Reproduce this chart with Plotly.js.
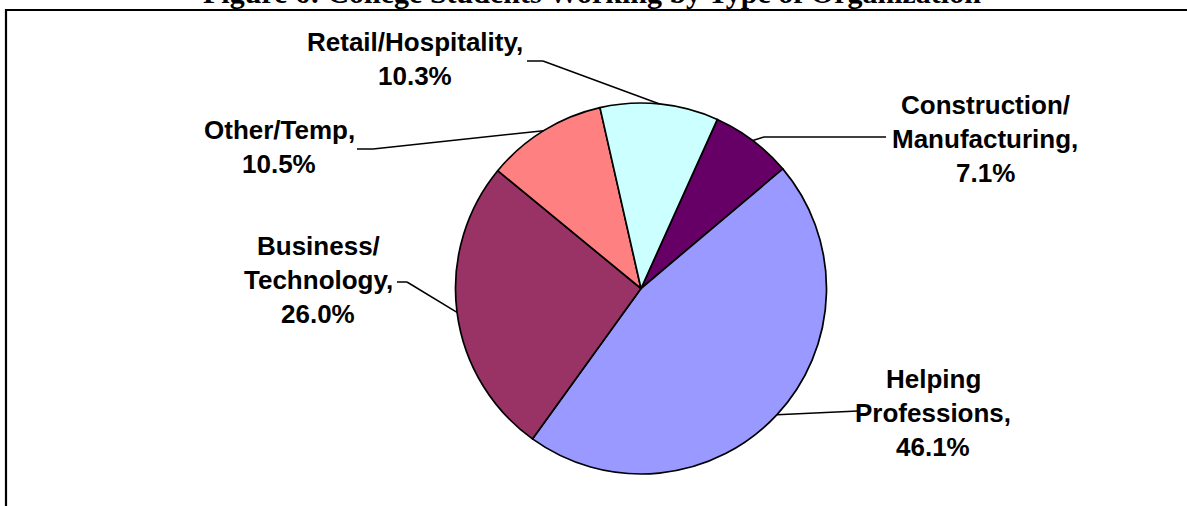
<!DOCTYPE html>
<html><head><meta charset="utf-8">
<script src="https://cdn.plot.ly/plotly-3.0.1.min.js"></script>
<style>html,body{margin:0;padding:0;background:#fff;overflow:hidden;} #chart{width:1187px;height:506px;}</style>
</head><body><div id="chart"></div>
<script>
// ---- data ----
const categories = ["Construction/ Manufacturing", "Helping Professions", "Business/ Technology", "Other/Temp", "Retail/Hospitality"];
const values = [7.1, 46.1, 26.0, 10.5, 10.3];
const labelText = ["Construction/<br>Manufacturing,", "Helping<br>Professions,", "Business/<br>Technology,", "Other/Temp,", "Retail/Hospitality,"];
const colors = ["#660066", "#9999FF", "#993366", "#FF8080", "#CCFFFF"];
const titleText = "Figure 6: College Students Working by Type of Organization";

// ---- layout helpers (pixel positions) ----
const W = 1187, H = 506;
const px = x => x / W, py = y => 1 - y / H;
const cx = 641, cy = 288.5, R = 185.5, rotation = 24.3;
const lineGap = 34, labelFont = 26;
// label centres and leader start/elbow points
const labelPos = [[985, 139], [933, 413], [318, 280], [279, 147], [415, 59]];
const leaderStart = [[886, 137], [858, 411], [397, 282], [357, 149], [527, 61]];
const leaderElbow = [[764, 137], [858, 411], [407, 282], [373, 149], [543, 61]];

const total = values.reduce((a, b) => a + b, 0);
let acc = 0;
const shapes = [];
const annotations = [];
values.forEach((v, i) => {
  const mid = (rotation + (acc + v / 2) / total * 360) * Math.PI / 180;
  acc += v;
  const ex = cx + R * Math.sin(mid), ey = cy - R * Math.cos(mid);
  const s = leaderStart[i], e = leaderElbow[i];
  const lineStyle = {color: "#000", width: 1.5};
  if (s[0] !== e[0] || s[1] !== e[1]) {
    shapes.push({type: "line", xref: "paper", yref: "paper", x0: px(s[0]), y0: py(s[1]), x1: px(e[0]), y1: py(e[1]), line: lineStyle});
  }
  shapes.push({type: "line", xref: "paper", yref: "paper", x0: px(e[0]), y0: py(e[1]), x1: px(ex), y1: py(ey), line: lineStyle});
  const lines = labelText[i].split("<br>").concat([v.toFixed(1) + "%"]);
  lines.forEach((t, j) => {
    annotations.push({
      xref: "paper", yref: "paper", x: px(labelPos[i][0]), y: py(labelPos[i][1] + (j - (lines.length - 1) / 2) * lineGap),
      xanchor: "center", yanchor: "middle", align: "center", showarrow: false,
      text: "<b>" + t + "</b>",
      font: {family: "Liberation Sans, Arial, sans-serif", size: labelFont, color: "#000"}
    });
  });
});
// frame
shapes.push({type: "line", xref: "paper", yref: "paper", x0: px(6), y0: py(10), x1: px(1200), y1: py(10), line: {color: "#000", width: 2.2}});
shapes.push({type: "line", xref: "paper", yref: "paper", x0: px(6), y0: py(9), x1: px(6), y1: py(520), line: {color: "#000", width: 2.2}});
// title (partly cut off at top)
annotations.push({
  xref: "paper", yref: "paper", x: px(592), y: py(11), xanchor: "center", yanchor: "bottom", showarrow: false,
  text: "<b>" + titleText + "</b>", font: {family: "Liberation Serif, Times New Roman, serif", size: 30, color: "#000"}
});

const trace = {
  type: "pie", labels: categories, values: values, sort: false, direction: "clockwise", rotation: rotation,
  marker: {colors: colors, line: {color: "#000", width: 1.7}},
  textinfo: "none", hoverinfo: "none", showlegend: false,
  domain: {x: [px(cx - R), px(cx + R)], y: [py(cy + R), py(cy - R)]}
};
Plotly.newPlot("chart", [trace], {
  width: W, height: H, margin: {l: 0, r: 0, t: 0, b: 0},
  paper_bgcolor: "#fff", plot_bgcolor: "#fff", showlegend: false,
  shapes: shapes, annotations: annotations
}, {staticPlot: true});
</script>
</body></html>
